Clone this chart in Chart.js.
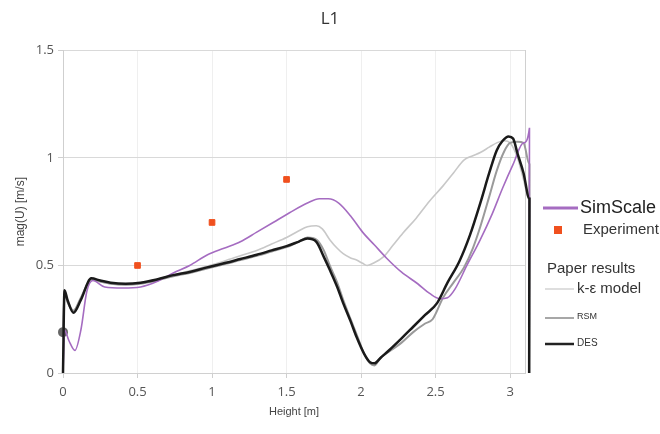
<!DOCTYPE html>
<html>
<head>
<meta charset="utf-8">
<script src="https://cdn.jsdelivr.net/npm/chart.js@4.4.0/dist/chart.umd.min.js"></script>
<style>
  html, body { margin: 0; padding: 0; background: #fff; }
  #wrap { width: 660px; height: 434px; }
</style>
</head>
<body>
<div id="wrap"><canvas id="l1"></canvas></div>
<script>
// Values (Height [m] -> mag(U) [m/s])
// last point of each curve steps back a hair so the final drop past the axis end is kept
const simX = [0, 0.01, 0.04, 0.08, 0.12, 0.16, 0.2, 0.28, 0.4, 0.52, 0.63, 0.74, 0.85, 0.97, 1.08, 1.19, 1.3, 1.41, 1.52, 1.64, 1.72, 1.78, 1.85, 1.93, 2.01, 2.09, 2.17, 2.27, 2.38, 2.46, 2.53, 2.58, 2.63, 2.71, 2.8, 2.88, 2.95, 3.02, 3.09, 3.13, 3.128]
const simY = [0, 0.2, 0.15, 0.105, 0.2, 0.38, 0.43, 0.4, 0.395, 0.4, 0.425, 0.465, 0.5, 0.55, 0.58, 0.61, 0.655, 0.7, 0.745, 0.79, 0.81, 0.81, 0.79, 0.73, 0.655, 0.595, 0.535, 0.47, 0.415, 0.37, 0.345, 0.35, 0.39, 0.5, 0.62, 0.74, 0.86, 0.97, 1.07, 1.14, 0]

const expX = [0.5, 1.0, 1.5]
const expY = [0.5, 0.7, 0.9]

const keX = [0, 0.01, 0.03, 0.07, 0.12, 0.19, 0.25, 0.32, 0.42, 0.52, 0.63, 0.74, 0.85, 0.96, 1.08, 1.19, 1.3, 1.4, 1.5, 1.58, 1.64, 1.7, 1.74, 1.79, 1.84, 1.88, 1.93, 1.97, 2.01, 2.04, 2.08, 2.15, 2.21, 2.28, 2.37, 2.46, 2.55, 2.62, 2.69, 2.75, 2.8, 2.86, 2.91, 2.96, 3.0, 3.05, 3.09, 3.13, 3.128]
const keY = [0, 0.37, 0.34, 0.29, 0.35, 0.435, 0.425, 0.415, 0.41, 0.42, 0.435, 0.455, 0.475, 0.495, 0.52, 0.545, 0.57, 0.6, 0.63, 0.66, 0.68, 0.685, 0.67, 0.62, 0.58, 0.555, 0.535, 0.525, 0.51, 0.5, 0.51, 0.54, 0.59, 0.65, 0.72, 0.8, 0.87, 0.93, 0.99, 1.01, 1.025, 1.05, 1.07, 1.08, 1.07, 1.0, 0.9, 0.8, 0]

const rsmX = [0, 0.01, 0.03, 0.07, 0.12, 0.19, 0.25, 0.32, 0.42, 0.52, 0.63, 0.74, 0.85, 0.96, 1.08, 1.19, 1.3, 1.4, 1.5, 1.58, 1.64, 1.7, 1.75, 1.79, 1.84, 1.88, 1.93, 1.97, 2.02, 2.06, 2.09, 2.13, 2.19, 2.27, 2.35, 2.43, 2.48, 2.55, 2.62, 2.69, 2.75, 2.8, 2.86, 2.91, 2.96, 3.0, 3.05, 3.09, 3.13, 3.128]
const rsmY = [0.19, 0.37, 0.33, 0.29, 0.35, 0.435, 0.425, 0.415, 0.41, 0.415, 0.43, 0.45, 0.465, 0.485, 0.505, 0.525, 0.545, 0.565, 0.585, 0.61, 0.63, 0.62, 0.57, 0.5, 0.42, 0.34, 0.25, 0.18, 0.09, 0.045, 0.035, 0.07, 0.1, 0.14, 0.19, 0.23, 0.25, 0.35, 0.42, 0.49, 0.58, 0.68, 0.82, 0.94, 1.03, 1.07, 1.075, 1.07, 0.97, 0]

const desX = [0, 0.01, 0.03, 0.07, 0.12, 0.19, 0.25, 0.32, 0.42, 0.52, 0.63, 0.74, 0.85, 0.96, 1.08, 1.19, 1.3, 1.4, 1.5, 1.58, 1.64, 1.7, 1.75, 1.79, 1.84, 1.88, 1.93, 1.97, 2.02, 2.06, 2.09, 2.13, 2.19, 2.27, 2.35, 2.43, 2.51, 2.58, 2.66, 2.73, 2.8, 2.86, 2.91, 2.95, 2.99, 3.02, 3.05, 3.09, 3.13, 3.128]
const desY = [0, 0.385, 0.34, 0.28, 0.34, 0.44, 0.43, 0.42, 0.415, 0.42, 0.435, 0.455, 0.47, 0.49, 0.51, 0.53, 0.55, 0.57, 0.59, 0.61, 0.625, 0.61, 0.54, 0.48, 0.4, 0.325, 0.24, 0.167, 0.09, 0.05, 0.045, 0.07, 0.107, 0.16, 0.215, 0.27, 0.325, 0.42, 0.52, 0.64, 0.79, 0.93, 1.035, 1.08, 1.1, 1.09, 1.02, 0.93, 0.81, 0]

const xTicks = [0, 0.5, 1, 1.5, 2, 2.5, 3]
const yTicks = [0, 0.5, 1, 1.5]

const pts = (xs, ys) => xs.map((x, i) => ({ x, y: ys[i] }))

const FONT = "'Liberation Sans', Arial, sans-serif"

// right-hand legend, drawn by hand because of the "Paper results" header
const sideLegend = {
  id: 'sideLegend',
  afterDraw(chart) {
    const c = chart.ctx
    c.save()
    c.textBaseline = 'middle'
    c.lineCap = 'butt'
    const line = (x1, x2, y, color, w) => {
      c.strokeStyle = color
      c.lineWidth = w
      c.beginPath()
      c.moveTo(x1, y)
      c.lineTo(x2, y)
      c.stroke()
    }
    const text = (s, x, y, size, color) => {
      c.font = size + 'px ' + FONT
      c.fillStyle = color
      c.fillText(s, x, y)
    }
    line(543, 578, 208, '#a56cc1', 3)
    text('SimScale', 580, 208, 18, '#222')
    c.fillStyle = '#f0501e'
    c.fillRect(554, 226, 8, 8)
    text('Experiment', 583, 230, 15, '#333')
    text('Paper results', 547, 269, 15, '#333')
    line(545, 574, 289, '#c8c8c8', 1.2)
    text('k-ε model', 577, 289, 15, '#333')
    line(545, 574, 318, '#8a8a8a', 1.5)
    text('RSM', 577, 317, 9, '#333')
    line(545, 574, 344, '#222', 2.5)
    text('DES', 577, 343, 10, '#333')
    c.restore()
  },
}

const lineSet = (label, data, color, width) => ({
  label,
  data,
  borderColor: color,
  backgroundColor: color,
  borderWidth: width,
  pointRadius: 0,
  showLine: true,
  fill: false,
  cubicInterpolationMode: 'monotone',
  clip: false,
})

const rsmSet = lineSet('RSM', pts(rsmX, rsmY), '#9a9a9a', 2)
rsmSet.pointRadius = ctx => (ctx.dataIndex === 0 ? 4 : 0)
rsmSet.pointBackgroundColor = '#666'
rsmSet.pointBorderColor = '#666'

const plainNum = v => String(v)

const configL1 = {
  type: 'scatter',
  data: {
    datasets: [
      {
        label: 'Experiment',
        data: pts(expX, expY),
        pointStyle: 'rect',
        pointRadius: 4,
        backgroundColor: '#f0501e',
        borderColor: '#f0501e',
        showLine: false,
      },
      lineSet('DES', pts(desX, desY), '#1a1a1a', 2.5),
      lineSet('SimScale', pts(simX, simY), '#a56cc1', 1.6),
      rsmSet,
      lineSet('k-ε model', pts(keX, keY), '#c8c8c8', 1.6),
    ],
  },
  options: {
    responsive: true,
    maintainAspectRatio: false,
    animation: false,
    layout: { padding: 0 },
    plugins: {
      legend: { display: false },
      tooltip: { enabled: false },
      title: {
        display: true,
        text: 'L1',
        color: '#333',
        font: { family: "'Open Sans', sans-serif", size: 17, weight: 'normal' },
        padding: { top: 9, bottom: 21 },
      },
    },
    scales: {
      x: {
        type: 'linear',
        min: 0,
        max: 3.1,
        afterBuildTicks: axis => {
          axis.ticks = xTicks.map(v => ({ value: v }))
        },
        afterFit: axis => {
          axis.height = 61
        },
        ticks: {
          color: '#555',
          font: { family: "'Open Sans', sans-serif", size: 13 },
          padding: 6,
          maxRotation: 0,
          callback: plainNum,
        },
        grid: { color: '#efefef', tickColor: '#cfcfcf', tickLength: 5 },
        border: { color: '#d0d0d0' },
        title: {
          display: true,
          text: 'Height [m]',
          color: '#444',
          font: { family: FONT, size: 11 },
          padding: { top: 4, bottom: 15 },
        },
      },
      y: {
        min: 0,
        max: 1.5,
        afterBuildTicks: axis => {
          axis.ticks = yTicks.map(v => ({ value: v }))
        },
        afterFit: axis => {
          axis.width = 63
        },
        ticks: {
          color: '#555',
          font: { family: "'Open Sans', sans-serif", size: 13 },
          padding: 4,
          callback: plainNum,
        },
        grid: { color: '#d9d9d9', tickColor: '#cfcfcf', tickLength: 5 },
        border: { color: '#cfcfcf' },
        title: {
          display: true,
          text: 'mag(U) [m/s]',
          color: '#444',
          font: { family: FONT, size: 12 },
          padding: { top: 13, bottom: 0 },
        },
      },
      y2: {
        position: 'right',
        min: 0,
        max: 1.5,
        afterFit: axis => {
          axis.width = 135
        },
        ticks: { display: false },
        grid: { drawOnChartArea: false, drawTicks: false },
        border: { color: '#d0d0d0' },
      },
    },
  },
  plugins: [sideLegend],
}

const l1Chart = new Chart(document.getElementById('l1').getContext('2d'), configL1)
</script>
</body>
</html>
